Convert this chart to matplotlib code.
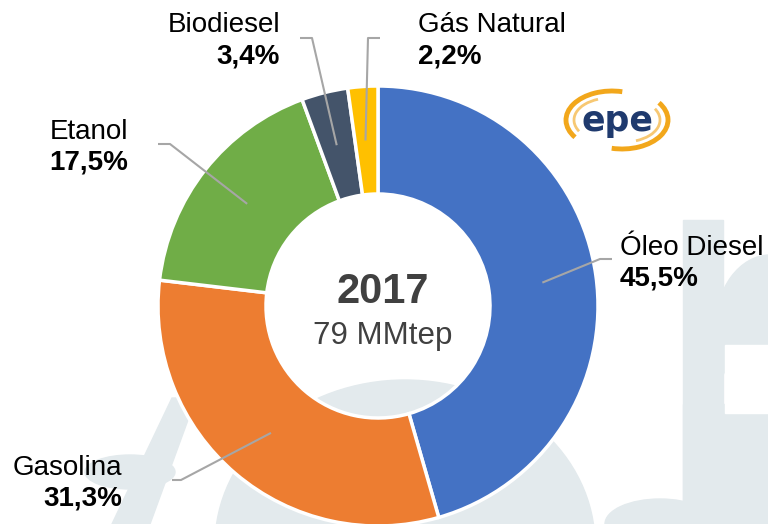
import numpy as np
import matplotlib
matplotlib.use("Agg")
import matplotlib.pyplot as plt
from matplotlib.patches import Arc, Ellipse, Rectangle, Polygon

plt.rcParams['font.family'] = ['Liberation Sans', 'DejaVu Sans']

# Dados: consumo de energia no transporte, 2017
categorias = ['Óleo Diesel', 'Gasolina', 'Etanol', 'Biodiesel', 'Gás Natural']
valores = [45.5, 31.3, 17.5, 3.4, 2.2]
rotulos_pct = ['45,5%', '31,3%', '17,5%', '3,4%', '2,2%']
cores = ['#4472C4', '#ED7D31', '#70AD47', '#44546A', '#FFC000']
ano = '2017'
total = '79 MMtep'

W, H = 768, 524
cx, cy = 378, 306          # centro da rosca (pixels, y para baixo)
r_ext, largura = 220, 108


def Y(y):
    return H - y


fig = plt.figure(figsize=(W / 100, H / 100), dpi=100)
ax = fig.add_axes([0, 0, 1, 1])

# =========================
# marca d'agua ao fundo
# =========================
cor_fundo = '#E3EAED'
ax.add_patch(Ellipse((405, Y(545)), 380, 330, color=cor_fundo, zorder=0))
ax.add_patch(Polygon([(172, Y(398)), (196, Y(398)), (150, Y(524)), (112, Y(524))],
                     color=cor_fundo, zorder=0))
ax.add_patch(Ellipse((130, Y(472)), 90, 34, color=cor_fundo, zorder=0))
ax.add_patch(Rectangle((683, Y(524)), 40, 304, color=cor_fundo, zorder=0))
ax.add_patch(Ellipse((770, Y(330)), 110, 150, color=cor_fundo, zorder=0))
ax.add_patch(Rectangle((683, Y(524)), 90, 120, color=cor_fundo, zorder=0))
ax.add_patch(Rectangle((725, Y(413)), 50, 68, color='white', zorder=0.5))
ax.add_patch(Ellipse((660, Y(524)), 110, 50, color=cor_fundo, zorder=0))

# =========================
# rosca
# =========================
ax.pie(valores, colors=cores, startangle=90, counterclock=False,
       radius=r_ext, center=(cx, Y(cy)),
       wedgeprops=dict(width=largura, edgecolor='white', linewidth=2.5))

# linhas guia + rotulos
r_meio = r_ext - largura / 2
acum = np.cumsum(valores) - np.array(valores) / 2
ang = np.deg2rad(90 - acum / 100 * 360)
px = cx + r_meio * np.cos(ang)
py = cy - r_meio * np.sin(ang)

# (x do texto, baseline da 1a linha, alinhamento, inicio da linha, cotovelo)
layout = [
    (620, 255, 'left', (612, 259), (600, 259)),
    (122, 475, 'right', (172, 480), (181, 480)),
    (128, 139, 'right', (158, 144), (170, 144)),
    (280, 32, 'right', (300, 38), (312, 38)),
    (418, 32, 'left', (380, 38), (368, 38)),
]

for i, (tx, ty, ha, p0, p1) in enumerate(layout):
    ax.plot([p0[0], p1[0], px[i]], [Y(p0[1]), Y(p1[1]), Y(py[i])],
            color='#A6A6A6', lw=1.5, zorder=5, solid_capstyle='butt')
    ax.text(tx, Y(ty), categorias[i], ha=ha, va='baseline', fontsize=20,
            color='black')
    ax.text(tx, Y(ty + 31), rotulos_pct[i], ha=ha, va='baseline', fontsize=20,
            fontweight='bold', color='black')

# texto central
ax.text(cx + 5, Y(303), ano, ha='center', va='baseline', fontsize=30,
        fontweight='bold', color='#404040')
ax.text(cx + 5, Y(344), total, ha='center', va='baseline', fontsize=22.5,
        color='#404040')

# =========================
# logo epe
# =========================
laranja = '#F2A71B'
ax.add_patch(Arc((612, Y(120)), 92, 58, theta1=70, theta2=205, color=laranja, lw=3.5))
ax.add_patch(Arc((622, Y(120)), 92, 58, theta1=250, theta2=385, color=laranja, lw=3.5))
ax.add_patch(Arc((610, Y(120)), 72, 44, theta1=120, theta2=200, color='#F7C873', lw=2))
ax.add_patch(Arc((624, Y(120)), 72, 44, theta1=300, theta2=20, color='#F7C873', lw=2))
ax.text(617, Y(121), 'epe', ha='center', va='center', fontsize=25,
        family='DejaVu Sans', fontweight='semibold', color='#1F3A6E')

ax.set_xlim(0, W)
ax.set_ylim(0, H)
ax.set_aspect('equal')
ax.axis('off')

plt.savefig('out.png', dpi=100)
plt.close()
